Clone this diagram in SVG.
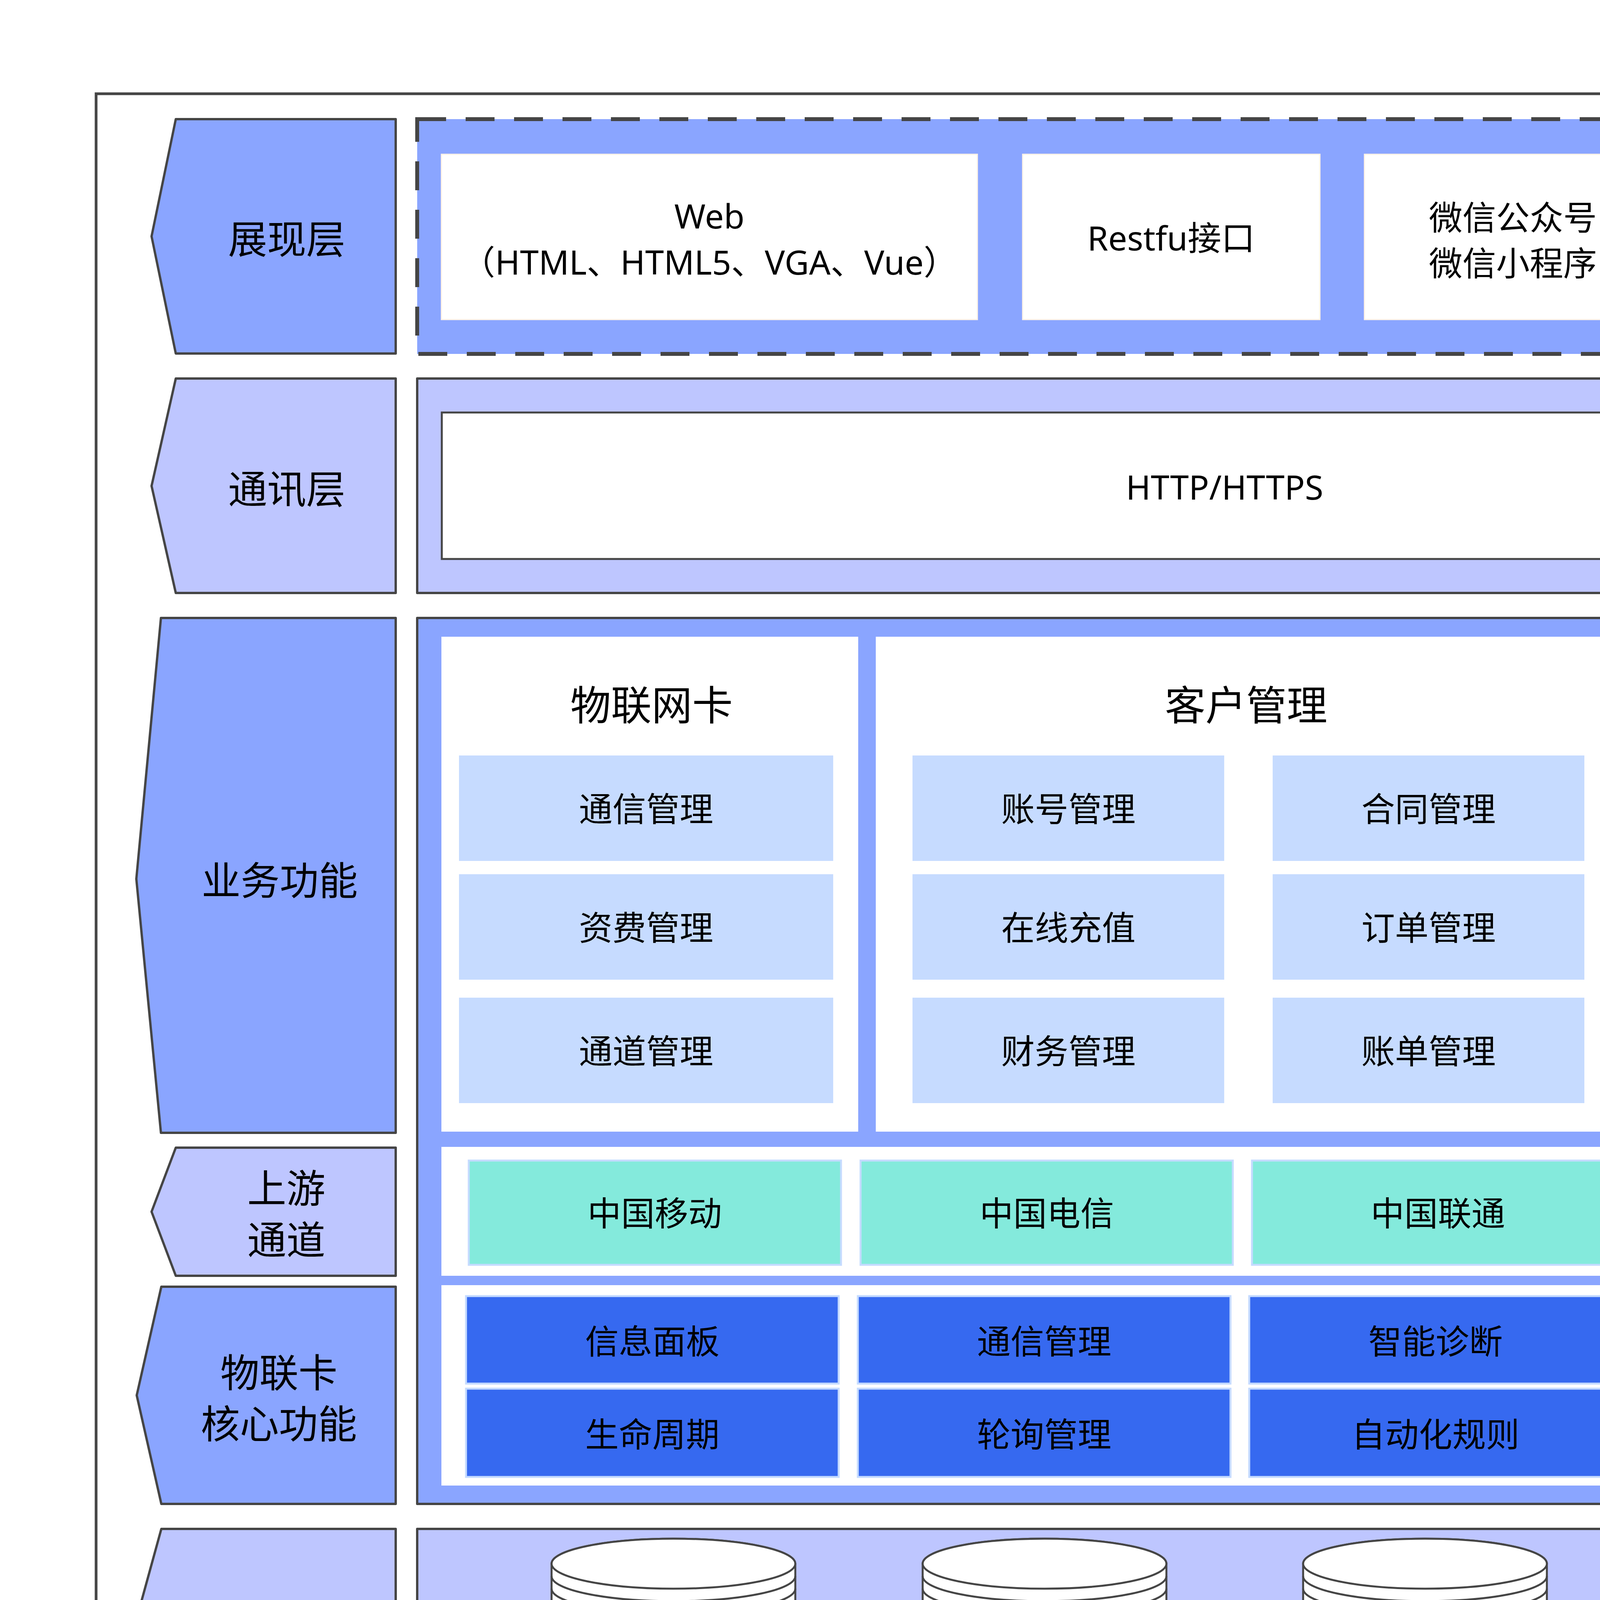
<svg xmlns="http://www.w3.org/2000/svg" width="5625" height="4675" viewBox="0 0 5625 4675">
<style>
text{font-family:"Noto Sans","Noto Sans CJK SC",sans-serif;fill:#000;text-anchor:middle;dominant-baseline:central}
.f86{font-size:86px}.f100{font-size:100px}.f104{font-size:104px}.f82{font-size:82px;dominant-baseline:alphabetic}
.ln{stroke:#454545;stroke-width:6;stroke-linejoin:round}
.dk{fill:#8AA5FF}.lt{fill:#BEC6FF}
.wb{fill:#FFFFFF;stroke:#FFF3E6;stroke-width:3}
.wh{fill:#FFFFFF}
.lb{fill:#C6DBFF}
.tl{fill:#84EADC;stroke:#C5DBFF;stroke-width:5}
.db{fill:#3669F0;stroke:#C5DBFF;stroke-width:5}
.cy{fill:#FFFFFF;stroke:#454545;stroke-width:5}
.cl{fill:none;stroke:#454545;stroke-width:5}
</style>
<rect width="5625" height="4675" fill="#FFFFFF"/>
<rect id="frame" x="246" y="240" width="5135" height="4198" fill="#FFFFFF" stroke="#454545" stroke-width="7"/>

<g id="label-zhanxian">
<polygon class="dk ln" points="450,305 1013,305 1013,905 450,905 388,605"/>
<text class="f100" x="734" y="610">展现层</text>
</g>
<g id="label-tongxun">
<polygon class="lt ln" points="450,969 1013,969 1013,1518 450,1518 388,1244"/>
<text class="f100" x="734" y="1250">通讯层</text>
</g>
<g id="label-yewu">
<polygon class="dk ln" points="412,1582 1013,1582 1013,2900 412,2900 349,2250"/>
<text class="f100" x="716" y="2252">业务功能</text>
</g>
<g id="label-shangyou">
<polygon class="lt ln" points="450,2938 1013,2938 1013,3266 450,3266 388,3102"/>
<text class="f100" x="733" y="3040">上游</text>
<text class="f100" x="733" y="3172">通道</text>
</g>
<g id="label-hexingongneng">
<polygon class="dk ln" points="413,3294 1013,3294 1013,3850 413,3850 350,3572"/>
<text class="f100" x="714" y="3512">物联卡</text>
<text class="f100" x="714" y="3643">核心功能</text>
</g>
<g id="label-kuangjia">
<polygon class="lt ln" points="413,3914 1013,3914 1013,4372 413,4372 350,4143"/>
<text class="f100" x="716" y="4152">核心框架</text>
</g>

<g id="layer-presentation">
<rect class="dk" x="1068" y="305" width="4202" height="601" stroke="#454545" stroke-width="10" stroke-dasharray="74 50"/>
<g id="node-web">
<rect class="wb" x="1130" y="395" width="1372" height="423"/>
<text class="f86" x="1816" y="551">Web</text>
<text class="f86" x="1816" y="669">（HTML、HTML5、VGA、Vue）</text>
</g>
<g id="node-restful">
<rect class="wb" x="2618" y="395" width="761" height="423"/>
<text class="f86" x="2998" y="607">Restfu接口</text>
</g>
<g id="node-wechat">
<rect class="wb" x="3493" y="395" width="761" height="423"/>
<text class="f86" x="3873" y="555">微信公众号</text>
<text class="f86" x="3873" y="672">微信小程序</text>
</g>
<g id="node-app">
<rect class="wb" x="4376" y="395" width="760" height="423"/>
<text class="f86" x="4756" y="555">App</text>
<text class="f86" x="4756" y="672">（ios、Android）</text>
</g>
</g>

<g id="layer-communication">
<rect class="lt ln" x="1068" y="969" width="4202" height="549"/>
<g id="node-http">
<rect x="1131" y="1056" width="4009" height="375" fill="#FFFFFF" stroke="#454545" stroke-width="5"/>
<text class="f86" x="3135" y="1245">HTTP/HTTPS</text>
</g>
</g>

<g id="layer-business">
<rect class="dk ln" x="1068" y="1582" width="4202" height="2268"/>
<g id="group-iotcard">
<rect class="wh" x="1130" y="1630" width="1067" height="1267"/>
<text class="f104" x="1668" y="1803">物联网卡</text>
<g id="node-card-comm"><rect class="lb" x="1175" y="1934" width="958" height="270"/><text class="f86" x="1654" y="2069">通信管理</text></g>
<g id="node-card-fee"><rect class="lb" x="1175" y="2238" width="958" height="270"/><text class="f86" x="1654" y="2373">资费管理</text></g>
<g id="node-card-channel"><rect class="lb" x="1175" y="2554" width="958" height="270"/><text class="f86" x="1654" y="2689">通道管理</text></g>
</g>
<g id="group-customer">
<rect class="wh" x="2242" y="1630" width="1892" height="1267"/>
<text class="f104" x="3190" y="1803">客户管理</text>
<g id="node-account"><rect class="lb" x="2336" y="1934" width="798" height="270"/><text class="f86" x="2735" y="2069">账号管理</text></g>
<g id="node-recharge"><rect class="lb" x="2336" y="2238" width="798" height="270"/><text class="f86" x="2735" y="2373">在线充值</text></g>
<g id="node-finance"><rect class="lb" x="2336" y="2554" width="798" height="270"/><text class="f86" x="2735" y="2689">财务管理</text></g>
<g id="node-contract"><rect class="lb" x="3258" y="1934" width="798" height="270"/><text class="f86" x="3657" y="2069">合同管理</text></g>
<g id="node-order"><rect class="lb" x="3258" y="2238" width="798" height="270"/><text class="f86" x="3657" y="2373">订单管理</text></g>
<g id="node-bill"><rect class="lb" x="3258" y="2554" width="798" height="270"/><text class="f86" x="3657" y="2689">账单管理</text></g>
</g>
<g id="group-module">
<rect class="wh" x="4178" y="1638" width="1031" height="1272"/>
<text class="f104" x="4680" y="1803">物联网模组</text>
<g id="node-stockin"><rect class="lb" x="4216" y="1934" width="957" height="270"/><text class="f86" x="4694" y="2069">入库管理</text></g>
<g id="node-stockout"><rect class="lb" x="4216" y="2238" width="957" height="270"/><text class="f86" x="4694" y="2373">出库管理</text></g>
<g id="node-inventory"><rect class="lb" x="4216" y="2554" width="957" height="270"/><text class="f86" x="4694" y="2689">库存盘点</text></g>
</g>

<g id="group-upstream">
<rect class="wh" x="1130" y="2936" width="4080" height="330"/>
<g id="node-cmcc"><rect class="tl" x="1200" y="2971" width="953" height="267"/><text class="f86" x="1676" y="3104">中国移动</text></g>
<g id="node-ctcc"><rect class="tl" x="2203" y="2971" width="953" height="267"/><text class="f86" x="2680" y="3104">中国电信</text></g>
<g id="node-cucc"><rect class="tl" x="3205" y="2971" width="953" height="267"/><text class="f86" x="3681" y="3104">中国联通</text></g>
<g id="node-third"><rect class="tl" x="4206" y="2971" width="953" height="267"/><text class="f86" x="4682" y="3104">三方平台</text></g>
</g>

<g id="group-core">
<rect class="wh" x="1130" y="3290" width="4080" height="513"/>
<g id="node-dashboard"><rect class="db" x="1193" y="3318" width="954" height="224"/><text class="f86" x="1670" y="3432">信息面板</text></g>
<g id="node-lifecycle"><rect class="db" x="1193" y="3555" width="954" height="226"/><text class="f86" x="1670" y="3670">生命周期</text></g>
<g id="node-core-comm"><rect class="db" x="2196" y="3318" width="954" height="224"/><text class="f86" x="2673" y="3432">通信管理</text></g>
<g id="node-polling"><rect class="db" x="2196" y="3555" width="954" height="226"/><text class="f86" x="2673" y="3670">轮询管理</text></g>
<g id="node-diagnosis"><rect class="db" x="3198" y="3318" width="954" height="224"/><text class="f86" x="3675" y="3432">智能诊断</text></g>
<g id="node-rules"><rect class="db" x="3198" y="3555" width="954" height="226"/><text class="f86" x="3675" y="3670">自动化规则</text></g>
<g id="node-core-fee"><rect class="db" x="4199" y="3318" width="954" height="224"/><text class="f86" x="4676" y="3432">资费管理</text></g>
<g id="node-core-bill"><rect class="db" x="4199" y="3555" width="954" height="226"/><text class="f86" x="4676" y="3670">账单管理</text></g>
</g>
</g>

<g id="layer-framework">
<rect class="lt ln" x="1068" y="3914" width="4202" height="458"/>
<g id="node-springboot">
<path class="cy" d="M1412,4003 L1412,4290 A312,64 0 0 0 2036,4290 L2036,4003 A312,64 0 0 0 1412,4003 Z"/>
<ellipse class="cy" cx="1724" cy="4003" rx="312" ry="64"/>
<path class="cl" d="M1412,4035 A312,64 0 0 0 2036,4035 M1412,4067 A312,64 0 0 0 2036,4067"/>
<text class="f82" x="1724" y="4268">SpringBoot</text>
</g>
<g id="node-rabbitmq">
<path class="cy" d="M2362,4003 L2362,4290 A312,64 0 0 0 2986,4290 L2986,4003 A312,64 0 0 0 2362,4003 Z"/>
<ellipse class="cy" cx="2674" cy="4003" rx="312" ry="64"/>
<path class="cl" d="M2362,4035 A312,64 0 0 0 2986,4035 M2362,4067 A312,64 0 0 0 2986,4067"/>
<text class="f82" x="2674" y="4268">RabbitMq</text>
</g>
<g id="node-redis">
<path class="cy" d="M3336,4003 L3336,4290 A312,64 0 0 0 3960,4290 L3960,4003 A312,64 0 0 0 3336,4003 Z"/>
<ellipse class="cy" cx="3648" cy="4003" rx="312" ry="64"/>
<path class="cl" d="M3336,4035 A312,64 0 0 0 3960,4035 M3336,4067 A312,64 0 0 0 3960,4067"/>
<text class="f82" x="3648" y="4268">Redis</text>
</g>
<g id="node-mysql">
<path class="cy" d="M4293,4003 L4293,4290 A312,64 0 0 0 4917,4290 L4917,4003 A312,64 0 0 0 4293,4003 Z"/>
<ellipse class="cy" cx="4605" cy="4003" rx="312" ry="64"/>
<path class="cl" d="M4293,4035 A312,64 0 0 0 4917,4035 M4293,4067 A312,64 0 0 0 4917,4067"/>
<text class="f82" x="4605" y="4268">mysql</text>
</g>
</g>

<g id="connectors"/>
</svg>
